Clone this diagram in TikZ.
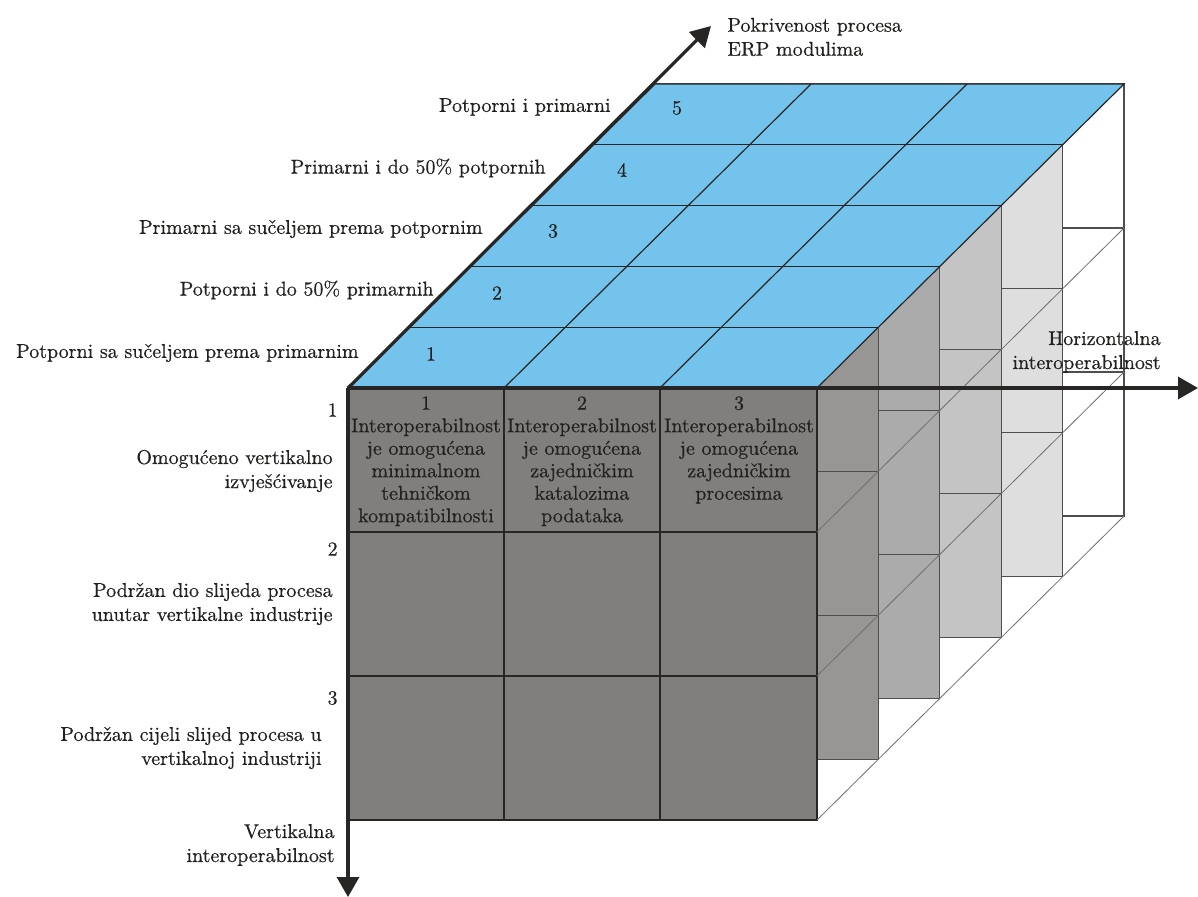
\documentclass[tikz,border=0pt]{standalone}
\usepackage{fontspec}
\setmainfont{Latin Modern Roman}[FakeBold=0.5]
\usetikzlibrary{arrows.meta}
\definecolor{topblue}{RGB}{116,195,237}
\definecolor{g0}{RGB}{128,127,125}
\definecolor{g1}{RGB}{151,150,149}
\definecolor{g2}{RGB}{171,171,171}
\definecolor{g3}{RGB}{196,196,196}
\definecolor{g4}{RGB}{222,222,222}
\definecolor{g5}{RGB}{255,255,255}
\definecolor{inkc}{RGB}{40,38,36}
\definecolor{sidec}{RGB}{80,78,76}
\definecolor{diagc}{RGB}{110,110,110}
\definecolor{txtc}{RGB}{35,33,31}
\begin{document}
\begin{tikzpicture}[x=0.5pt,y=-0.5pt,
  lbl/.style={inner sep=0pt, text=txtc, font=\fontsize{10}{12}\selectfont},
  celltxt/.style={lbl, align=center, anchor=north, font=\fontsize{10}{11.25}\selectfont},
  sidegrid/.style={draw=sidec, line width=0.55pt},
  frontgrid/.style={draw=inkc, line width=0.75pt},
  topgrid/.style={draw=inkc, line width=0.6pt},
  diagline/.style={draw=diagc, line width=0.4pt},
  axisline/.style={draw=inkc, line width=1.6pt, -{Triangle[length=10pt,width=11pt]}}]
\useasboundingbox (0,0) rectangle (1198,897);

% layers from back to front
\foreach \k/\c in {5/g5,4/g4,3/g3,2/g2,1/g1}{
  \begin{scope}[shift={({\k*61.4},{-\k*60.8})}]
    \filldraw[fill=\c, sidegrid] (348,388) rectangle (817,820);
    \draw[sidegrid] (348,532) -- (817,532) (348,676) -- (817,676)
      (504,388) -- (504,820) (660,388) -- (660,820);
  \end{scope}
}
% front face
\filldraw[fill=g0, frontgrid] (348,388) rectangle (817,820);
\draw[frontgrid] (348,532) -- (817,532) (348,676) -- (817,676)
  (504,388) -- (504,820) (660,388) -- (660,820);

% depth edges on the right side
\foreach \Y in {532,676,820}{
  \draw[diagline] (817,\Y) -- ++(307,-304);
}

% top face
\filldraw[fill=topblue, topgrid] (348,388) -- (817,388) -- (1124,84) -- (655,84) -- cycle;
\foreach \j in {1,...,4}{
  \draw[topgrid] ({348+\j*61.4},{388-\j*60.8}) -- ++(469,0);
}
\draw[topgrid] (504,388) -- ++(307,-304) (660,388) -- ++(307,-304);

% axes
\coordinate (O) at (348,388);
\coordinate (HX) at (1198,388);
\coordinate (VX) at (348,897);
\coordinate (DX) at (711,26);
\draw[axisline] (O) -- (HX);
\draw[axisline] (O) -- (VX);
\draw[axisline] (O) -- (DX);

% axis titles
\node[lbl, align=left, anchor=west] (tDepth) at (727,37) {Pokrivenost procesa\\ERP modulima};
\node[lbl, align=right, anchor=east] (tHor) at (1161,352) {Horizontalna\\interoperabilnost};
\node[lbl, align=right, anchor=east] (tVer) at (335,845) {Vertikalna\\interoperabilnost};

% depth level labels
\node[lbl, anchor=east] (d5) at (611,107) {Potporni i primarni};
\node[lbl, anchor=east] (d4) at (546,168) {Primarni i do 50\% potpornih};
\node[lbl, anchor=east] (d3) at (483,229) {Primarni sa sučeljem prema potpornim};
\node[lbl, anchor=east] (d2) at (434,290) {Potporni i do 50\% primarnih};
\node[lbl, anchor=east] (d1) at (359,353) {Potporni sa sučeljem prema primarnim};

\node[lbl] (n1) at (431,354) {1};
\node[lbl] (n2) at (497,293) {2};
\node[lbl] (n3) at (553,231) {3};
\node[lbl] (n4) at (622,170) {4};
\node[lbl] (n5) at (677,108) {5};

% vertical level labels
\node[lbl, anchor=east] (v1n) at (338,410) {1};
\node[lbl, align=right, anchor=east] (v1) at (333,471) {Omogućeno vertikalno\\izvješćivanje};
\node[lbl, anchor=east] (v2n) at (338,549) {2};
\node[lbl, align=right, anchor=east] (v2) at (333,604) {Podržan dio slijeda procesa\\unutar vertikalne industrije};
\node[lbl, anchor=east] (v3n) at (338,698) {3};
\node[lbl, align=right, anchor=east] (v3) at (322,748) {Podržan cijeli slijed procesa u\\vertikalnoj industriji};

% front cells
\node[celltxt] (c1) at (426,396) {1\\Interoperabilnost\\je omogućena\\minimalnom\\tehničkom\\kompatibilnosti};
\node[celltxt] (c2) at (582,396) {2\\Interoperabilnost\\je omogućena\\zajedničkim\\katalozima\\podataka};
\node[celltxt] (c3) at (739,396) {3\\Interoperabilnost\\je omogućena\\zajedničkim\\procesima};
\end{tikzpicture}
\end{document}
